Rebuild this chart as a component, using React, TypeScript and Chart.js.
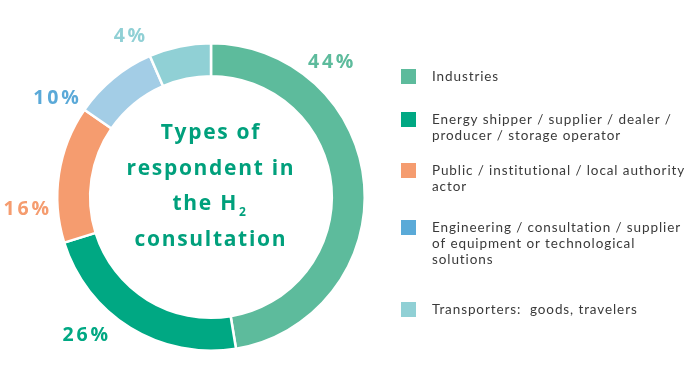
import { useEffect, useRef } from "react";
import { Chart, registerables } from "chart.js";

Chart.register(...registerables);

// ---- data ----
const categoryLines: string[][] = [
  ["Industries"],
  ["Energy shipper / supplier / dealer /", "producer / storage operator"],
  ["Public / institutional / local authority", "actor"],
  ["Engineering / consultation / supplier", "of equipment or technological", "solutions"],
  ["Transporters:  goods, travelers"],
];
// arc shares as drawn in the picture
const shares = [47.4, 22.8, 14.4, 8.9, 6.5];
// percentages printed next to the ring
const percentLabels = ["44%", "26%", "16%", "10%", "4%"];
const centerTitleLines = ["Types of", "respondent in", "the H", "consultation"];

// ---- styles / layout ----
const sliceColors = ["#5dbb9c", "#00a883", "#f59c6f", "#a3cde6", "#90d0d5"];
const legendColors = ["#5dbb9c", "#00a883", "#f59c6f", "#5aaad8", "#90d0d5"];
const labelColors = ["#5dbb9c", "#00a883", "#f59c6f", "#5aa9d8", "#90d0d5"];
const labelPlacement = [
  { angle: 41.4, dist: 181 },
  { angle: 222.5, dist: 186 },
  { angle: 266.6, dist: 185 },
  { angle: 302.6, dist: 184 },
  { angle: 333.2, dist: 181 },
];
const legendItemTops = [69, 112, 163, 220, 302];
const LEGEND_FONT = "Lato, 'Open Sans', sans-serif";
const BOLD_FONT = "'Open Sans', Lato, sans-serif";

function setSpacing(ctx: any, px: number) {
  if ("letterSpacing" in ctx) ctx.letterSpacing = `${px}px`;
}

function fillCentered(ctx: CanvasRenderingContext2D, text: string, x: number, y: number, sp: number) {
  const w = ctx.measureText(text).width;
  const prev = ctx.textAlign;
  ctx.textAlign = "left";
  ctx.fillText(text, x - (w - sp) / 2, y);
  ctx.textAlign = prev;
}

const overlayPlugin = {
  id: "overlay",
  afterDatasetsDraw(chart: any) {
    const ctx = chart.ctx as CanvasRenderingContext2D;
    const meta = chart.getDatasetMeta(0);
    const arc0 = meta.data[0] as any;
    if (!arc0) return;
    const cx = arc0.x;
    const cy = arc0.y;
    ctx.save();

    // percent labels
    const lsp = 2.8;
    ctx.font = `bold 19.5px ${BOLD_FONT}`;
    ctx.textBaseline = "middle";
    setSpacing(ctx, lsp);
    percentLabels.forEach((t, i) => {
      const p = labelPlacement[i];
      const a = (p.angle * Math.PI) / 180;
      const x = cx + Math.sin(a) * p.dist;
      const y = cy - Math.cos(a) * p.dist;
      ctx.fillStyle = labelColors[i];
      fillCentered(ctx, t, x, y + 1, lsp);
    });

    // center title
    ctx.fillStyle = "#00a07c";
    const spacing = 35.5;
    const startY = cy - 10.5 - spacing * 1.5;
    const sp = 1.7;
    centerTitleLines.forEach((line, i) => {
      const y = startY + i * spacing;
      ctx.font = `bold 21px ${BOLD_FONT}`;
      setSpacing(ctx, sp);
      if (i === 2) {
        const w1 = ctx.measureText(line).width;
        ctx.font = `bold 12px ${BOLD_FONT}`;
        const w2 = ctx.measureText("2").width;
        const total = w1 + 1 + w2;
        const x0 = cx - 1 - total / 2;
        ctx.textAlign = "left";
        ctx.font = `bold 21px ${BOLD_FONT}`;
        ctx.fillText(line, x0, y);
        ctx.font = `bold 12px ${BOLD_FONT}`;
        ctx.fillText("2", x0 + w1 + 1, y + 8);
      } else {
        fillCentered(ctx, line, cx - 1, y, sp);
      }
    });

    // legend
    ctx.textAlign = "left";
    ctx.textBaseline = "middle";
    ctx.font = `13.5px ${LEGEND_FONT}`;
    setSpacing(ctx, 0.9);
    categoryLines.forEach((lines, i) => {
      const top = legendItemTops[i];
      ctx.fillStyle = legendColors[i];
      ctx.fillRect(401, top, 15, 15);
      ctx.fillStyle = "#3a3a3a";
      lines.forEach((ln, j) => {
        ctx.fillText(ln, 432, top + 8 + j * 16);
      });
    });
    ctx.restore();
  },
};

export default function App() {
  const ref = useRef<HTMLCanvasElement | null>(null);
  useEffect(() => {
    document.body.style.margin = "0";
    const canvas = ref.current;
    if (!canvas) return;
    const chart = new Chart(canvas, {
      type: "doughnut",
      data: {
        labels: categoryLines.map((l) => l.join(" ")),
        datasets: [
          {
            data: shares,
            backgroundColor: sliceColors,
            borderColor: "#ffffff",
            borderWidth: 2.5,
            hoverOffset: 0,
          },
        ],
      },
      options: {
        responsive: false,
        animation: false,
        devicePixelRatio: 1,
        cutout: "78.6%",
        layout: { padding: { left: 56, top: 42, right: 327, bottom: 23 } },
        plugins: {
          legend: { display: false },
          tooltip: { enabled: false },
        },
      },
      plugins: [overlayPlugin],
    });
    return () => chart.destroy();
  }, []);
  return (
    <div style={{ width: 693, height: 375, background: "#fff" }}>
      <canvas ref={ref} width={693} height={375} style={{ display: "block" }} />
    </div>
  );
}
